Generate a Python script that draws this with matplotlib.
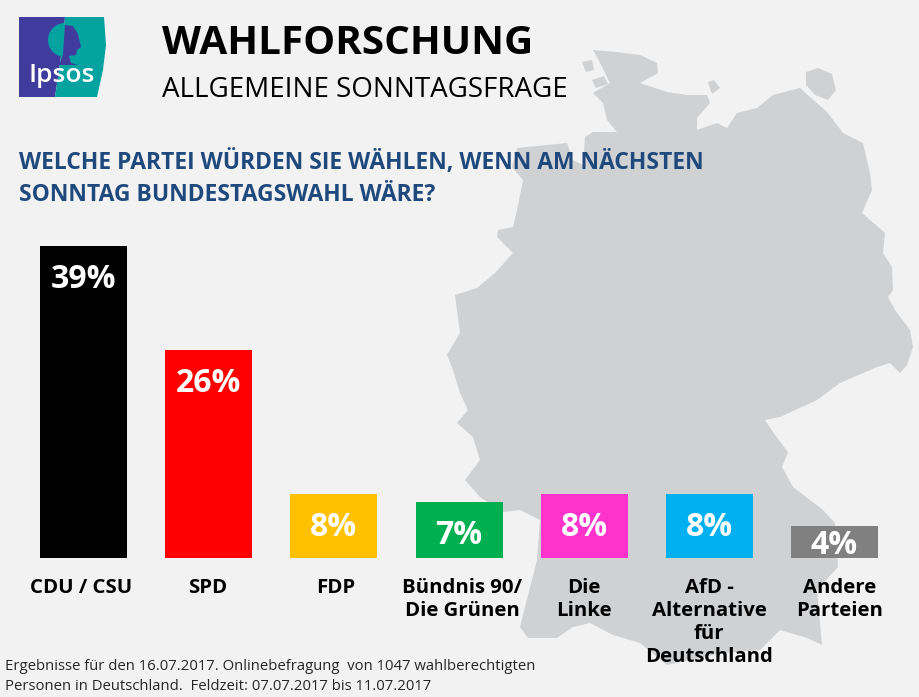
import matplotlib
matplotlib.use("Agg")
import matplotlib.pyplot as plt
from matplotlib.patches import Polygon, Ellipse

parties = ["CDU / CSU", "SPD", "FDP", "Bündnis 90/\nDie Grünen", "Die\nLinke",
           "AfD -\nAlternative\nfür\nDeutschland", "Andere\nParteien"]
values = [39, 26, 8, 7, 8, 8, 4]
colors = ["#000000", "#FF0000", "#FFC000", "#00B050", "#FF33CC", "#00B0F0", "#808080"]
label_shift_px = [-2, -1, 2, 3, 0, 0, 5]

germany = [(593,50),(617,52),(640,55),(657,63),(658,73),(640,83),(667,92),(687,95),(707,95),(710,103),
 (697,118),(697,130),(717,123),(727,128),(737,113),(757,108),(773,95),(800,88),(810,97),(827,112),
 (843,133),(863,143),(870,173),(872,190),(862,213),(885,233),(883,253),(892,267),(893,290),(888,297),
 (895,310),(910,330),(913,347),(907,365),(900,373),(890,363),(877,367),(840,383),(817,400),(780,417),
 (765,420),(775,435),(788,452),(782,467),(793,487),(823,510),(835,523),(838,567),(817,590),(822,645),
 (807,638),(780,630),(760,650),(723,653),(667,665),(640,643),(613,635),(590,623),(573,627),(557,638),
 (528,638),(520,627),(537,560),(540,520),(520,510),(503,512),(480,497),(465,480),(480,460),(473,437),
 (457,423),(468,410),(460,393),(453,370),(447,355),(460,333),(455,295),(477,288),(495,273),(513,253),
 (497,237),(498,230),(513,227),(517,210),(523,180),(512,167),(517,148),(567,143),(573,160),(583,165),
 (585,137),(593,132),(617,132),(607,120),(603,103),(593,93),(610,83),(597,57)]
ruegen = [(806,72),(818,68),(832,74),(836,90),(828,100),(815,95),(806,85)]
fehmarn = [(708,82),(714,80),(720,88),(712,94)]
islands = [[(582,62),(592,60),(594,70),(586,72)], [(592,80),(604,76),(608,84),(596,88)]]

W, H = 919, 697
fig = plt.figure(figsize=(W/100, H/100), dpi=100, facecolor="#F2F2F2")
plt.rcParams["font.family"] = ["Open Sans", "DejaVu Sans"]

bg = fig.add_axes([0, 0, 1, 1])
bg.set_xlim(0, W); bg.set_ylim(H, 0); bg.axis("off")
for pts in [germany, ruegen, fehmarn] + islands:
    bg.add_patch(Polygon(pts, closed=True, fc="#D0D1D3", ec="none"))

# logo
purple, teal = "#3F3C9E", "#04A3A0"
bg.add_patch(Polygon([(19,17),(65,17),(62,50),(55,97),(19,97)], fc=purple, ec="none"))
bg.add_patch(Polygon([(65,17),(104,17),(106,45),(103,70),(97,97),(55,97),(62,50)], fc=teal, ec="none"))
bg.add_patch(Ellipse((65,40), 34, 34, fc=teal, ec="none"))
bg.add_patch(Polygon([(65,25),(73,26),(78,34),(81,47),(77,50),(76,55),(69,56),(71,63),(78,65),(52,65),(60,63),(63,54)],
                     fc=purple, ec="none"))
bg.text(61.5, 75, "Ipsos", color="white", fontsize=19, fontweight="semibold", ha="center", va="center")

bg.text(162, 43.5, "WAHLFORSCHUNG", fontsize=29.1, fontweight="bold", color="black", va="center", ha="left")
bg.text(162, 90, "ALLGEMEINE SONNTAGSFRAGE", fontsize=20, color="black", va="center", ha="left")
bg.text(19, 163, "WELCHE PARTEI WÜRDEN SIE WÄHLEN, WENN AM NÄCHSTEN", fontsize=16.45, fontweight="bold", color="#1F497D", va="center")
bg.text(19, 195, "SONNTAG BUNDESTAGSWAHL WÄRE?", fontsize=16.45, fontweight="bold", color="#1F497D", va="center")
bg.text(5, 667, "Ergebnisse für den 16.07.2017. Onlinebefragung  von 1047 wahlberechtigten", fontsize=10.75, color="#262626", va="center")
bg.text(5, 687, "Personen in Deutschland.  Feldzeit: 07.07.2017 bis 11.07.2017", fontsize=10.75, color="#262626", va="center")

# bars: 8 px per percentage point, baseline at y=558 px
ax = fig.add_axes([0, 0, 1, 1])
ax.patch.set_alpha(0)
step = 125.17
ax.set_xlim(-83.5/step, (W-83.5)/step)
ax.set_ylim(-(H-558)/8, 558/8)
ax.axis("off")
xs = list(range(len(values)))
ax.bar(xs, values, width=87/step, color=colors)
for x, v, name, dx in zip(xs, values, parties, label_shift_px):
    ax.annotate(f"{v}%", (x, v), xytext=(0, -(33 if v > 4 else 20)*0.72), textcoords="offset points",
                ha="center", va="center", color="white", fontsize=23, fontweight="bold")
    ax.annotate(name, (x, 0), xytext=(dx*0.72, -14.5), textcoords="offset points", ha="center", va="top",
                color="black", fontsize=14.7, fontweight="bold", linespacing=1.19)

fig.savefig("out.png", dpi=100, facecolor=fig.get_facecolor())
